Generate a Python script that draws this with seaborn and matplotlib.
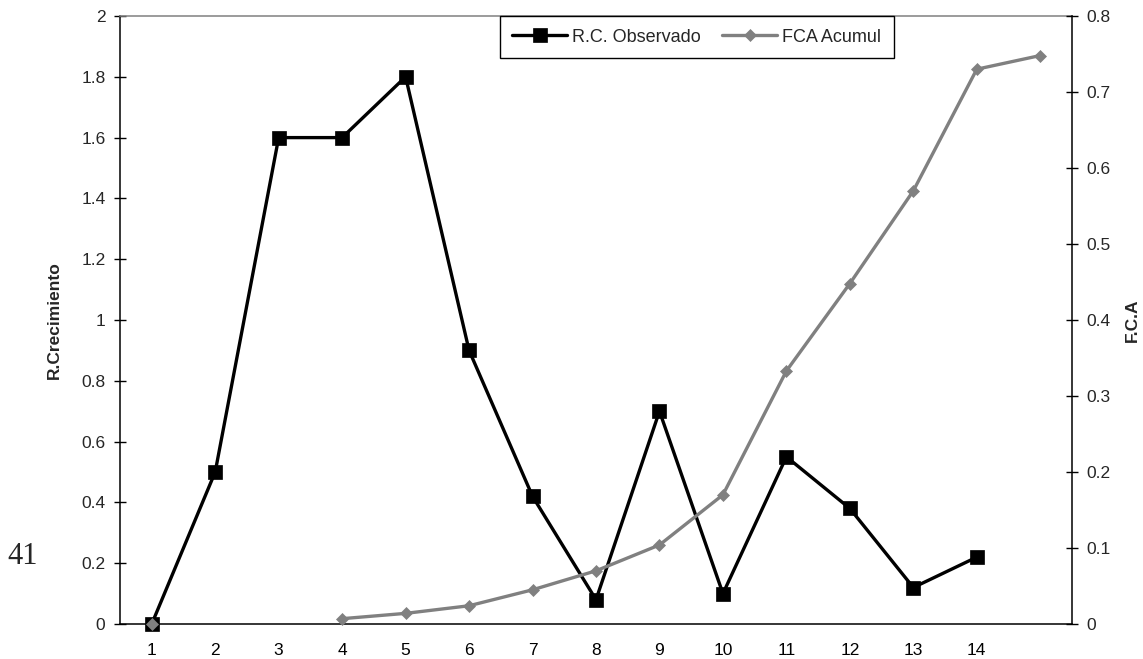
import numpy as np
import pandas as pd
import matplotlib
matplotlib.use("Agg")
import matplotlib.pyplot as plt
import seaborn as sns
from matplotlib.ticker import FuncFormatter, FixedLocator

# ---- data ----
periods = list(range(1, 16))
tick_labels = [str(i) for i in range(1, 15)] + [""]
rc_x = list(range(1, 15))
rc_obs = [0.0, 0.5, 1.6, 1.6, 1.8, 0.9, 0.42, 0.08, 0.7, 0.1, 0.55, 0.38, 0.12, 0.22]
fca_x = [1, 4, 5, 6, 7, 8, 9, 10, 11, 12, 13, 14, 15]
fca_acum = [0.0, 0.007, 0.014, 0.024, 0.045, 0.070, 0.104, 0.170, 0.333, 0.448, 0.570, 0.730, 0.748]
fca_seg = [0] + [1] * 12
left_ticks = [0, 0.2, 0.4, 0.6, 0.8, 1.0, 1.2, 1.4, 1.6, 1.8, 2.0]
right_ticks = [0, 0.1, 0.2, 0.3, 0.4, 0.5, 0.6, 0.7, 0.8]

sns.set_style("white")
plt.rcParams["font.family"] = ["Liberation Sans", "DejaVu Sans"]

fig = plt.figure(figsize=(11.43, 6.59), dpi=100)
ax = fig.add_axes([120 / 1143, 35 / 659, 952 / 1143, 608 / 659])
ax2 = ax.twinx()

rc_df = pd.DataFrame({"x": rc_x, "y": rc_obs})
fca_df = pd.DataFrame({"x": fca_x, "y": fca_acum, "seg": fca_seg})

sns.lineplot(data=rc_df, x="x", y="y", ax=ax, color="black", marker="s",
             markersize=10.5, markeredgecolor="black", markeredgewidth=0.5,
             linewidth=2.4, legend=False, clip_on=False)
sns.lineplot(data=fca_df, x="x", y="y", units="seg", estimator=None, ax=ax2,
             color="#808080", marker="D", markersize=6.5,
             markeredgecolor="#808080", markeredgewidth=0.5,
             linewidth=2.4, legend=False, clip_on=False)
for ln in ax.lines + ax2.lines:
    ln.set_clip_on(False)

fmt = FuncFormatter(lambda v, p: "{:g}".format(round(v, 3)))

ax.set_xlim(0.5, 15.5)
ax.set_ylim(0, 2)
ax2.set_ylim(0, 0.8)

ax.xaxis.set_major_locator(FixedLocator(periods))
ax.set_xticklabels(tick_labels)
ax.xaxis.set_minor_locator(FixedLocator([p + 0.5 for p in range(0, 16)]))
ax.tick_params(axis="x", which="major", length=0, pad=14, labelsize=12.5, colors="black")
ax.tick_params(axis="x", which="minor", direction="inout", length=8.5, width=1, color="black")

ax.set_yticks(left_ticks)
ax.yaxis.set_major_formatter(fmt)
ax.tick_params(axis="y", direction="inout", length=9, width=1, pad=6, labelsize=12.5,
               color="black", left=True)
ax2.set_yticks(right_ticks)
ax2.yaxis.set_major_formatter(fmt)
ax2.tick_params(axis="y", direction="inout", length=9, width=1, pad=6, labelsize=12.5,
                color="black", right=True)

for s in ["left", "bottom"]:
    ax.spines[s].set_color("black")
    ax.spines[s].set_linewidth(1.1)
ax.spines["right"].set_visible(False)
ax.spines["top"].set_color("#808080")
ax.spines["top"].set_linewidth(1.1)
ax2.spines["right"].set_color("black")
ax2.spines["right"].set_linewidth(1.1)
for s in ["left", "bottom", "top"]:
    ax2.spines[s].set_visible(False)

ax.set_xlabel("")
ax.set_ylabel("R.Crecimiento", fontweight="bold", fontsize=12.5)
ax.yaxis.set_label_coords(-0.061, 0.5)
ax2.set_ylabel("F.C.A", fontweight="bold", fontsize=12.5)
ax2.yaxis.set_label_coords(1.056, 0.5)

handles = [ax.lines[0], ax2.lines[0]]
leg = ax2.legend(handles, ["R.C. Observado", "FCA Acumul"], loc="upper left",
                 bbox_to_anchor=(0.399, 1.0), borderaxespad=0, ncol=2,
                 fontsize=13, handlelength=3, handletextpad=0.3, columnspacing=1.2,
                 borderpad=0.7, frameon=True, fancybox=False, framealpha=1,
                 edgecolor="black", facecolor="white")
leg.get_frame().set_linewidth(1.0)
leg.set_zorder(10)

fig.text(23 / 1143, 1 - 557 / 659, "41", fontsize=22, family="Liberation Serif",
         ha="center", va="center")

fig.savefig("out.png", dpi=100)
